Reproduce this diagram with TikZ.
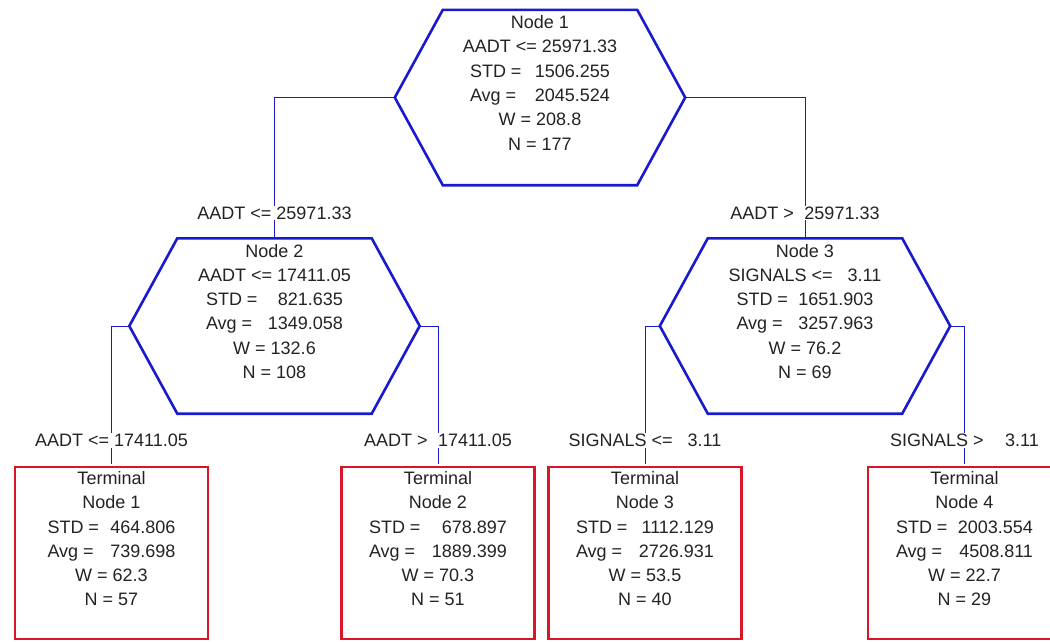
\documentclass[tikz,border=0pt]{standalone}
\usepackage{fontspec}
\setmainfont{Liberation Sans}
\definecolor{treeblue}{RGB}{25,25,205}
\definecolor{treered}{RGB}{220,20,40}
\definecolor{txtgray}{RGB}{35,35,35}
\newcommand\statline[3]{\makebox[#3]{#1\hfill#2}}
\newcommand\hexpath[1]{\draw[hexline] (#1.west) -- ([xshift=48pt]#1.north west) -- ([xshift=-48pt]#1.north east) -- (#1.east) -- ([xshift=-48pt]#1.south east) -- ([xshift=48pt]#1.south west) -- cycle;}
\begin{document}
\begin{tikzpicture}[x=1pt,y=-1pt,
  every node/.style={font=\fontsize{18}{24.3}\selectfont, text=txtgray},
  hexbox/.style={minimum width=290pt, minimum height=175pt, inner sep=0pt},
  termbox/.style={draw=treered, line width=2.6pt, minimum width=193pt, minimum height=172pt, inner sep=0pt},
  hexline/.style={draw=treeblue, line width=2.6pt, line join=miter},
  conn/.style={draw=treeblue, line width=1pt, shorten >=1.3pt},
  info/.style={anchor=north, align=center, inner sep=0pt},
  cond/.style={fill=white, inner sep=1pt, pos=0.91},
]
\useasboundingbox (0,0) rectangle (1050,641);
\clip (0,0) rectangle (1050,641);
\fill[white] (0,0) rectangle (1050,641);

% decision nodes (frames)
\node[hexbox] (n1) at (540,97.5) {};
\node[hexbox] (n2) at (274.5,326) {};
\node[hexbox] (n3) at (805,326) {};

% terminal boxes
\node[termbox] (t1) at (111.5,553) {};
\node[termbox] (t2) at (438,553) {};
\node[termbox] (t3) at (645,553) {};
\node[termbox] (t4) at (964.5,553) {};

% connectors with split conditions
\draw[conn] (n1.west) -| node[cond]{AADT <= 25971.33} (n2.north);
\draw[conn] (n1.east) -| node[cond]{AADT >\hspace{10.5pt}25971.33} (n3.north);
\draw[conn] (n2.west) -| node[cond]{AADT <= 17411.05} (t1.north);
\draw[conn] (n2.east) -| node[cond]{AADT >\hspace{10.5pt}17411.05} (t2.north);
\draw[conn] (n3.west) -| node[cond]{SIGNALS <=\hspace{15pt}3.11} (t3.north);
\draw[conn] (n3.east) -| node[cond]{SIGNALS >\hspace{21.5pt}3.11} (t4.north);

% hexagon outlines
\hexpath{n1}
\hexpath{n2}
\hexpath{n3}

% texts
\node[info] (n1t) at ([yshift=-5.5pt]n1.north) {Node 1\\AADT <= 25971.33\\\statline{STD =}{1506.255}{140pt}\\\statline{Avg =}{2045.524}{140pt}\\W = 208.8\\N = 177};
\node[info] (n2t) at ([yshift=-5.5pt]n2.north) {Node 2\\AADT <= 17411.05\\\statline{STD =}{821.635}{137pt}\\\statline{Avg =}{1349.058}{137pt}\\W = 132.6\\N = 108};
\node[info] (n3t) at ([yshift=-5.5pt]n3.north) {Node 3\\SIGNALS <=\hspace{15pt}3.11\\\statline{STD =}{1651.903}{137pt}\\\statline{Avg =}{3257.963}{137pt}\\W = 76.2\\N = 69};

\node[info] (t1t) at ([yshift=-5.5pt]t1.north) {Terminal\\Node 1\\\statline{STD =}{464.806}{128pt}\\\statline{Avg =}{739.698}{128pt}\\W = 62.3\\N = 57};
\node[info] (t2t) at ([yshift=-5.5pt]t2.north) {Terminal\\Node 2\\\statline{STD =}{678.897}{138pt}\\\statline{Avg =}{1889.399}{138pt}\\W = 70.3\\N = 51};
\node[info] (t3t) at ([yshift=-5.5pt]t3.north) {Terminal\\Node 3\\\statline{STD =}{1112.129}{138pt}\\\statline{Avg =}{2726.931}{138pt}\\W = 53.5\\N = 40};
\node[info] (t4t) at ([yshift=-5.5pt]t4.north) {Terminal\\Node 4\\\statline{STD =}{2003.554}{137pt}\\\statline{Avg =}{4508.811}{137pt}\\W = 22.7\\N = 29};
\end{tikzpicture}
\end{document}
